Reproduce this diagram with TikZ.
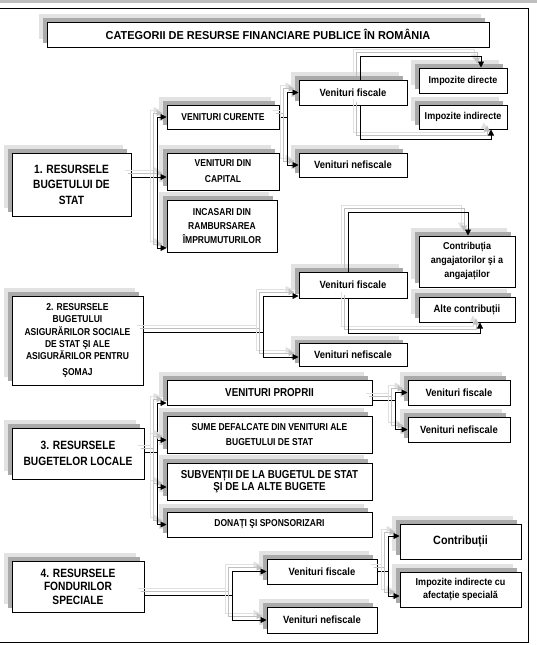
\documentclass[tikz,border=0pt]{standalone}
\usepackage{fontspec}
\setmainfont{Liberation Sans}
\newfontfamily\fa{Liberation Sans}[FakeStretch=0.85]
\newfontfamily\fb{Liberation Sans}[FakeStretch=0.9]
\newfontfamily\ft{Liberation Sans}[FakeStretch=0.95]
\usetikzlibrary{arrows.meta}
\newcommand\fsz[2]{\fontsize{#1}{#2}\selectfont}
\definecolor{shout}{RGB}{226,226,226}
\definecolor{shin}{RGB}{170,170,170}
\tikzset{
  bx/.style={draw, fill=white, line width=1pt, inner sep=0pt, align=center, text=black},
  bigtxt/.style={font=\fa\bfseries\fsz{12}{15.5}},
  captxt/.style={font=\fa\bfseries\fsz{10}{14}},
  lowtxt/.style={font=\fb\bfseries\fsz{10.5}{13}},
  conn/.style={draw=black, line width=0.8pt},
  shA/.style={draw=black!12, line width=0.8pt, transform canvas={shift={(-7pt,7pt)}}},
  shB/.style={draw=black!25, line width=0.8pt, transform canvas={shift={(-4pt,4pt)}}},
  arr/.style={-{Triangle[length=6pt,width=6pt]}}
}
% #1 style, #2 name, #3 cx, #4 cy, #5 width, #6 height, #7 text
\newcommand\bxn[7]{%
  \fill[shout] ({#3-#5/2-8},{#4-#6/2-8}) rectangle ++(#5,#6);
  \fill[shin] ({#3-#5/2-4},{#4-#6/2-4}) rectangle ++(#5,#6);
  \node[bx,#1,minimum width=#5pt,minimum height=#6pt] (#2) at (#3,#4) {#7};}
\newcommand\cn[2][]{%
  \path[shA,#1] #2;
  \path[shB,#1] #2;
  \path[conn,#1] #2;}
\begin{document}
\begin{tikzpicture}[x=1pt,y=-1pt]
\useasboundingbox (0,0) rectangle (537,645);
% frame
\fill[black!25] (0,0) rectangle (537,3);
\draw[line width=1pt] (0,8) -- (528,8) -- (528,642) -- (0,642);

% title
\bxn{font=\ft\bfseries\fsz{11.5}{14}}{title}{268}{34.5}{442}{25}{CATEGORII DE RESURSE FINANCIARE PUBLICE ÎN ROMÂNIA}

% group 1
\bxn{bigtxt}{b1}{71.5}{184.5}{119}{63}{1. RESURSELE\\BUGETULUI DE\\STAT}
\bxn{captxt}{vc}{223}{117}{112}{24}{VENITURI CURENTE}
\bxn{font=\fa\bfseries\fsz{10}{16}}{vdc}{223}{171.5}{112}{37}{VENITURI DIN\\CAPITAL}
\bxn{captxt}{inc}{222}{226}{110}{52}{INCASARI DIN\\RAMBURSAREA\\ÎMPRUMUTURILOR}
\bxn{lowtxt}{vf1}{353}{92.5}{108}{25}{Venituri fiscale}
\bxn{lowtxt}{vn1}{353}{165}{108}{24}{Venituri nefiscale}
\bxn{font=\fb\bfseries\fsz{10}{13}}{id}{463}{80.5}{88}{25}{Impozite directe}
\bxn{font=\fb\bfseries\fsz{10}{13}}{ii}{463}{117}{88}{24}{Impozite indirecte}

% group 2
\bxn{font=\fa\bfseries\fsz{10}{12.3}}{b2}{77.5}{340.5}{131}{89}{2. RESURSELE\\BUGETULUI\\ASIGURĂRILOR SOCIALE\\DE STAT ŞI ALE\\ASIGURĂRILOR PENTRU\\[3.5pt]ŞOMAJ}
\bxn{lowtxt}{vf2}{353}{285}{108}{26}{Venituri fiscale}
\bxn{lowtxt}{vn2}{353}{355}{108}{23}{Venituri nefiscale}
\bxn{font=\fb\bfseries\fsz{10}{14}}{ca}{467}{261.5}{96}{51}{Contribuția\\angajatorilor şi a\\angajaților}
\bxn{lowtxt}{ac}{467}{309.5}{96}{25}{Alte contribuții}

% group 3
\bxn{font=\fa\bfseries\fsz{12}{16}}{b3}{78}{453.5}{132}{51}{3. RESURSELE\\BUGETELOR LOCALE}
\bxn{font=\fa\bfseries\fsz{11.5}{14}}{vp}{269.5}{392.5}{205}{25}{VENITURI PROPRII}
\bxn{font=\fa\bfseries\fsz{10}{15}}{sd}{269.5}{434.5}{205}{37}{SUME DEFALCATE DIN VENITURI ALE\\BUGETULUI DE STAT}
\bxn{font=\fa\bfseries\fsz{11.5}{12.5}}{sb}{269.5}{481.5}{205}{37}{SUBVENȚII DE LA BUGETUL DE STAT\\ŞI DE LA ALTE BUGETE}
\bxn{captxt}{dn}{269.5}{524.5}{205}{25}{DONAȚI ŞI SPONSORIZARI}
\bxn{lowtxt}{vf3}{459}{392.5}{102}{25}{Venituri fiscale}
\bxn{lowtxt}{vn3}{459}{429.5}{102}{25}{Venituri nefiscale}

% group 4
\bxn{font=\fa\bfseries\fsz{12}{13.5}}{b4}{78}{586.5}{132}{51}{4. RESURSELE\\FONDURILOR\\SPECIALE}
\bxn{lowtxt}{vf4}{322}{571.5}{110}{25}{Venituri fiscale}
\bxn{lowtxt}{vn4}{322}{620}{110}{26}{Venituri nefiscale}
\bxn{font=\fb\bfseries\fsz{12}{14}}{co}{460.5}{541.5}{121}{35}{Contribuții}
\bxn{font=\fb\bfseries\fsz{10}{12.5}}{iic}{460.5}{589.5}{121}{35}{Impozite indirecte cu\\afectație specială}

% junction coordinates
\coordinate (j1) at (157,177);
\coordinate (j2) at (287,117);
\coordinate (j3) at (263,332);
\coordinate (j4) at (157,452);
\coordinate (j5) at (395,400);
\coordinate (j6) at (232,595);
\coordinate (j7) at (388,571.5);

% connectors group 1
\cn[arr]{([yshift=-5.5pt]vdc.west -| b1.east) -- ([yshift=-5.5pt]vdc.west)}
\cn[arr]{(j1) |- (vc.west)}
\cn[arr]{(j1) |- ([yshift=-22pt]inc.west)}
\cn{(vc.east) -- (j2)}
\cn[arr]{(j2) |- (vf1.west)}
\cn[arr]{(j2) |- (vn1.west)}
\cn[arr]{([xshift=7pt]vf1.north) |- ([xshift=18pt,yshift=11pt]id.north) -- ([xshift=18pt]id.north)}
\cn[arr]{([xshift=7pt]vf1.south) |- ([xshift=28pt,yshift=-10pt]ii.south) -- ([xshift=28pt]ii.south)}

% connectors group 2
\cn{(b2.east |- j3) -- (j3)}
\cn[arr]{(j3) |- ([yshift=-11pt]vf2.west)}
\cn[arr]{(j3) |- ([yshift=-2pt]vn2.west)}
\cn[arr]{([xshift=-5pt]vf2.north) |- ([xshift=1pt,yshift=23pt]ca.north) -- ([xshift=1pt]ca.north)}
\cn[arr]{([xshift=-5pt]vf2.south) |- ([xshift=13pt,yshift=-11pt]ac.south) -- ([xshift=13pt]ac.south)}

% connectors group 3
\cn{(b3.east |- j4) -- (j4)}
\cn[arr]{(j4) |- ([yshift=-10.5pt]vp.west)}
\cn[arr]{(j4) |- ([yshift=-5.5pt]sd.west)}
\cn[arr]{(j4) |- ([yshift=-5.5pt]sb.west)}
\cn[arr]{(j4) |- (dn.west)}
\cn{(vp.east |- j5) -- (j5)}
\cn[arr]{(j5) |- (vf3.west)}
\cn[arr]{(j5) |- (vn3.west)}

% connectors group 4
\cn{(b4.east |- j6) -- (j6)}
\cn[arr]{(j6) |- (vf4.west)}
\cn[arr]{(j6) |- (vn4.west)}
\cn{(vf4.east) -- (j7)}
\cn[arr]{(j7) |- ([yshift=5.5pt]co.west)}
\cn[arr]{(j7) |- ([yshift=-6.5pt]iic.west)}
\end{tikzpicture}
\end{document}
